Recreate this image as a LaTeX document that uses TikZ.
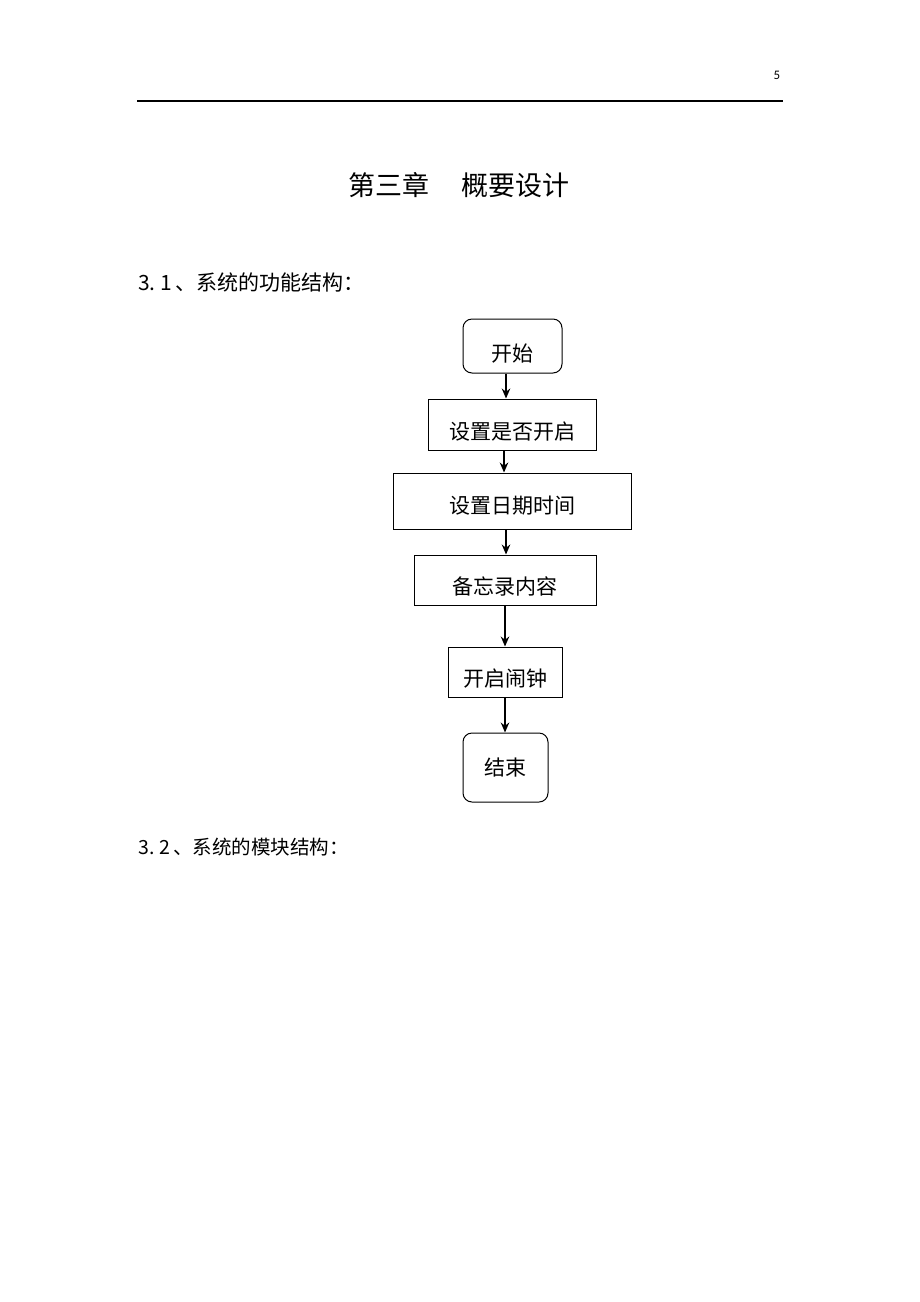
\documentclass[tikz,border=0pt]{standalone}
\usepackage{fontspec}
\usepackage{tikz}
\setmainfont{Carlito}
\newfontfamily\cjk{Noto Sans CJK SC}
\usetikzlibrary{arrows.meta}

\begin{document}
\begin{tikzpicture}[x=1pt,y=-1pt]
\tikzstyle{every node}+=[inner sep=0pt]
\tikzstyle{flowbox}=[draw=black,line width=1pt,font=\cjk\fontsize{21}{21}\selectfont,text height=28pt,text depth=0pt]
\tikzstyle{termbox}=[flowbox,rounded corners=9pt]
\tikzstyle{flowarrow}=[line width=1.4pt,-{Stealth[length=10pt,width=8.5pt]}]
\fill [white] (0,0) rectangle (920,1302);
\node (pageno) at (777,75) {\fontsize{13}{13}\selectfont 5};
\draw [line width=1.5pt] (137,101) -- (783,101);
\node (title) at (459,185) [font=\cjk\fontsize{27}{27}\selectfont] {第三章\hspace{1.2em}概要设计};
\node (secone) at (138,282) [anchor=west,font=\cjk\fontsize{21}{21}\selectfont] {3.\kern5pt1\kern3pt、系统的功能结构：};
\node (start) at (512.5,346) [termbox,minimum width=99pt,minimum height=54pt,text height=30pt] {开始};
\node (setopen) at (512,424.5) [flowbox,minimum width=168pt,minimum height=51pt,text height=30pt] {设置是否开启};
\node (settime) at (512,501) [flowbox,minimum width=238pt,minimum height=56pt,text height=24pt] {设置日期时间};
\node (memo) at (505,580) [flowbox,minimum width=182pt,minimum height=50pt] {备忘录内容};
\node (alarm) at (505,672) [flowbox,minimum width=114pt,minimum height=50pt] {开启闹钟};
\node (finish) at (505.5,767.5) [termbox,minimum width=85pt,minimum height=69pt,text height=16pt] {结束};
\node (sectwo) at (138,847) [anchor=west,font=\cjk\fontsize{19.5}{19.5}\selectfont] {3.\kern5pt2\kern3pt、系统的模块结构：};
\draw [flowarrow] ([xshift=-6.5pt]start.south) -- ([xshift=-6.5pt]start.south |- setopen.north);
\draw [flowarrow] ([xshift=-8pt]setopen.south) -- ([xshift=-8pt]setopen.south |- settime.north);
\draw [flowarrow] ([xshift=-6pt]settime.south) -- ([xshift=-6pt]settime.south |- memo.north);
\draw [flowarrow] (memo.south) -- (alarm.north);
\draw [flowarrow] (alarm.south) -- (finish.north -| alarm.south);
\end{tikzpicture}
\end{document}
